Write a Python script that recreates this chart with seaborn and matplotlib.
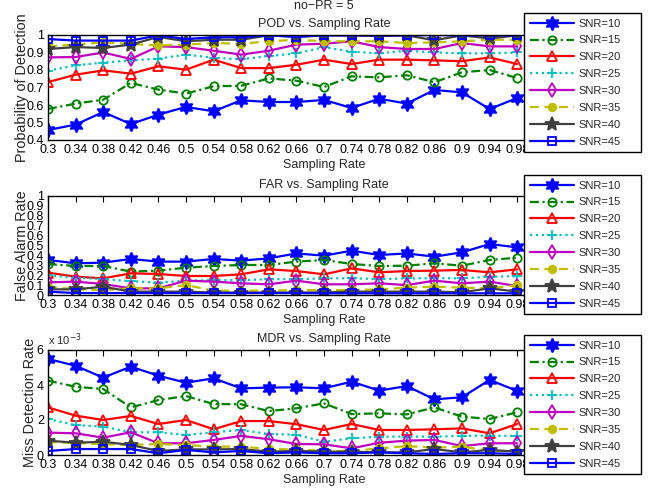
import numpy as np
import pandas as pd
import matplotlib
matplotlib.use("Agg")
import matplotlib.pyplot as plt
import seaborn as sns

# ---------------- data ----------------
sampling_rate = [0.3, 0.34, 0.38, 0.42, 0.46, 0.5, 0.54, 0.58, 0.62,
                 0.66, 0.7, 0.74, 0.78, 0.82, 0.86, 0.9, 0.94, 0.98]
x_tick_labels = ["0.3", "0.34", "0.38", "0.42", "0.46", "0.5", "0.54", "0.58", "0.62",
                 "0.66", "0.7", "0.74", "0.78", "0.82", "0.86", "0.9", "0.94", "0.98"]
snr_labels = ["SNR=10", "SNR=15", "SNR=20", "SNR=25", "SNR=30", "SNR=35", "SNR=40", "SNR=45"]

pod_snr10 = [0.457, 0.488, 0.56, 0.491, 0.545, 0.589, 0.564, 0.627, 0.617, 0.617, 0.629, 0.583, 0.636, 0.608, 0.686, 0.672, 0.577, 0.64]
pod_snr15 = [0.577, 0.608, 0.63, 0.726, 0.688, 0.665, 0.707, 0.71, 0.752, 0.739, 0.703, 0.764, 0.758, 0.77, 0.73, 0.787, 0.80, 0.754]
pod_snr20 = [0.731, 0.773, 0.798, 0.779, 0.821, 0.802, 0.859, 0.811, 0.811, 0.83, 0.859, 0.834, 0.859, 0.859, 0.855, 0.85, 0.872, 0.834]
pod_snr25 = [0.796, 0.827, 0.842, 0.855, 0.865, 0.888, 0.87, 0.861, 0.88, 0.895, 0.93, 0.905, 0.895, 0.91, 0.90, 0.895, 0.895, 0.90]
pod_snr30 = [0.872, 0.874, 0.90, 0.863, 0.935, 0.931, 0.91, 0.888, 0.91, 0.945, 0.95, 0.964, 0.931, 0.92, 0.92, 0.954, 0.935, 0.935]
pod_snr35 = [0.935, 0.945, 0.958, 0.949, 0.94, 0.945, 0.954, 0.95, 0.964, 0.973, 0.964, 0.964, 0.964, 0.954, 0.958, 0.964, 0.973, 0.973]
pod_snr40 = [0.92, 0.931, 0.926, 0.945, 0.989, 0.964, 0.973, 0.973, 0.998, 0.989, 0.998, 0.998, 0.994, 0.998, 0.97, 0.998, 0.98, 0.998]
pod_snr45 = [0.977, 0.968, 0.968, 0.968, 0.998, 0.977, 0.987, 0.987, 0.998, 0.99, 0.998, 0.998, 0.998, 0.998, 1.0, 0.998, 0.998, 0.998]

far_snr10 = [0.354, 0.32, 0.327, 0.364, 0.337, 0.337, 0.364, 0.347, 0.37, 0.42, 0.397, 0.448, 0.404, 0.42, 0.387, 0.431, 0.515, 0.481]
far_snr15 = [0.313, 0.293, 0.293, 0.236, 0.246, 0.276, 0.293, 0.303, 0.303, 0.337, 0.354, 0.313, 0.293, 0.296, 0.32, 0.296, 0.354, 0.377]
far_snr20 = [0.226, 0.185, 0.168, 0.219, 0.212, 0.192, 0.192, 0.209, 0.259, 0.242, 0.209, 0.269, 0.229, 0.242, 0.246, 0.253, 0.229, 0.259]
far_snr25 = [0.20, 0.175, 0.16, 0.14, 0.125, 0.145, 0.15, 0.15, 0.16, 0.16, 0.168, 0.17, 0.16, 0.168, 0.17, 0.168, 0.185, 0.19]
far_snr30 = [0.128, 0.135, 0.111, 0.067, 0.067, 0.145, 0.135, 0.118, 0.108, 0.145, 0.108, 0.108, 0.118, 0.10, 0.145, 0.118, 0.135, 0.09]
far_snr35 = [0.084, 0.057, 0.05, 0.067, 0.067, 0.10, 0.044, 0.044, 0.044, 0.05, 0.05, 0.05, 0.057, 0.074, 0.084, 0.074, 0.067, 0.10]
far_snr40 = [0.057, 0.057, 0.084, 0.034, 0.034, 0.034, 0.024, 0.024, 0.024, 0.024, 0.027, 0.034, 0.034, 0.034, 0.034, 0.027, 0.067, 0.034]
far_snr45 = [0.033, 0.02, 0.02, 0.02, 0.02, 0.02, 0.02, 0.02, 0.02, 0.02, 0.017, 0.017, 0.017, 0.017, 0.017, 0.017, 0.017, 0.017]

# miss detection rate, in units of 1e-3
mdr_snr10 = [5.49, 5.1, 4.42, 5.05, 4.53, 4.13, 4.38, 3.81, 3.85, 3.87, 3.81, 4.19, 3.68, 3.94, 3.18, 3.30, 4.29, 3.66]
mdr_snr15 = [4.25, 3.9, 3.77, 2.72, 3.14, 3.37, 2.91, 2.9, 2.51, 2.67, 2.95, 2.34, 2.38, 2.32, 2.72, 2.19, 2.06, 2.44]
mdr_snr20 = [2.72, 2.25, 2.0, 2.23, 1.77, 2.0, 1.47, 1.94, 1.94, 1.76, 1.43, 1.77, 1.43, 1.43, 1.47, 1.52, 1.24, 1.77]
mdr_snr25 = [2.06, 1.71, 1.62, 1.3, 1.3, 1.14, 1.3, 1.43, 1.2, 1.16, 0.76, 0.95, 1.05, 1.05, 1.05, 1.1, 1.1, 1.09]
mdr_snr30 = [1.28, 1.24, 0.99, 1.3, 0.67, 0.67, 0.86, 1.09, 0.9, 0.63, 0.61, 0.38, 0.7, 0.82, 0.86, 0.51, 0.67, 0.67]
mdr_snr35 = [0.75, 0.68, 0.62, 0.57, 0.63, 0.57, 0.48, 0.48, 0.34, 0.32, 0.23, 0.23, 0.38, 0.51, 0.42, 0.48, 0.23, 0.23]
mdr_snr40 = [0.82, 0.7, 0.76, 0.57, 0.23, 0.32, 0.32, 0.34, 0.19, 0.23, 0.19, 0.19, 0.15, 0.15, 0.34, 0.15, 0.29, 0.19]
mdr_snr45 = [0.23, 0.34, 0.34, 0.34, 0.1, 0.29, 0.15, 0.23, 0.1, 0.15, 0.1, 0.1, 0.15, 0.1, 0.06, 0.1, 0.1, 0.06]
mdr_scale = 1e-3

pod_series = [pod_snr10, pod_snr15, pod_snr20, pod_snr25, pod_snr30, pod_snr35, pod_snr40, pod_snr45]
far_series = [far_snr10, far_snr15, far_snr20, far_snr25, far_snr30, far_snr35, far_snr40, far_snr45]
mdr_series = [list(np.array(s) * mdr_scale) for s in
              [mdr_snr10, mdr_snr15, mdr_snr20, mdr_snr25, mdr_snr30, mdr_snr35, mdr_snr40, mdr_snr45]]

# ---------------- styles ----------------
sns.set_theme(style="white")
plt.rcParams["font.family"] = ["Liberation Sans", "DejaVu Sans"]
plt.rcParams["font.size"] = 9
plt.rcParams["axes.unicode_minus"] = True

hexagram = (6, 1, 0)
styles = [
    dict(color=(0, 0, 1), ls="-", marker=hexagram, ms=10, mfc=(0, 0, 1)),
    dict(color=(0, 0.5, 0), ls=(0, (4, 1.6, 1, 1.6)), marker="o", ms=6, mfc="none"),
    dict(color=(1, 0, 0), ls="-", marker="^", ms=7, mfc="none"),
    dict(color=(0, 0.75, 0.75), ls=":", marker="+", ms=7, mfc="none"),
    dict(color=(0.75, 0, 0.75), ls="-", marker="d", ms=7, mfc="none"),
    dict(color=(0.75, 0.75, 0), ls=(0, (4, 2.5)), marker="o", ms=5.5, mfc=(0.75, 0.75, 0)),
    dict(color=(0.25, 0.25, 0.25), ls="-", marker="*", ms=10, mfc=(0.25, 0.25, 0.25)),
    dict(color=(0, 0, 1), ls="-", marker="s", ms=6, mfc="none"),
]

W, H = 660, 491
fig = plt.figure(figsize=(W / 100, H / 100), dpi=100)

ax_left = 48 / W
ax_width = 552 / W


def fy(py):
    return 1 - py / H


panels = [
    dict(series=pod_series, top=35, bottom=140, ylim=(0.4, 1.0),
         yticks=[0.4, 0.5, 0.6, 0.7, 0.8, 0.9, 1.0],
         yticklabels=["0.4", "0.5", "0.6", "0.7", "0.8", "0.9", "1"],
         ylabel="Probability of Detection", title="POD vs. Sampling Rate",
         legend_top=13, ylabelpad=-1.5),
    dict(series=far_series, top=196, bottom=295, ylim=(0.0, 1.0),
         yticks=[0, 0.1, 0.2, 0.3, 0.4, 0.5, 0.6, 0.7, 0.8, 0.9, 1.0],
         yticklabels=["0", "0.1", "0.2", "0.3", "0.4", "0.5", "0.6", "0.7", "0.8", "0.9", "1"],
         ylabel="False Alarm Rate", title="FAR vs. Sampling Rate",
         legend_top=175, ylabelpad=-1.5),
    dict(series=mdr_series, top=350, bottom=455, ylim=(0.0, 6e-3),
         yticks=[0, 2e-3, 4e-3, 6e-3],
         yticklabels=["0", "2", "4", "6"],
         ylabel="Miss Detection Rate", title="MDR vs. Sampling Rate",
         legend_top=335, ylabelpad=0.0),
]

for p in panels:
    ax = fig.add_axes([ax_left, fy(p["bottom"]), ax_width, (p["bottom"] - p["top"]) / H])
    ax.set_facecolor("white")
    for vals, lab, st in zip(p["series"], snr_labels, styles):
        sns.lineplot(x=sampling_rate, y=vals, ax=ax, color=st["color"], linestyle=st["ls"],
                     marker=st["marker"], markersize=st["ms"], markerfacecolor=st["mfc"],
                     markeredgecolor=st["color"], markeredgewidth=1.3, linewidth=1.6,
                     label=lab, errorbar=None, estimator=None, sort=False)
    ax.set_xlim(0.3, 1.1)
    ax.set_ylim(*p["ylim"])
    ax.set_xticks(sampling_rate)
    ax.set_xticklabels(x_tick_labels)
    ax.set_yticks(p["yticks"])
    ax.set_yticklabels(p["yticklabels"])
    ax.tick_params(direction="in", length=4, width=0.8, top=True, right=True,
                   labelsize=9, pad=3, colors="black")
    for sp in ax.spines.values():
        sp.set_visible(True)
        sp.set_color("black")
        sp.set_linewidth(1.0)
    ax.set_xlabel("Sampling Rate", fontsize=9, labelpad=2)
    ax.set_ylabel(p["ylabel"], fontsize=10.4, labelpad=p["ylabelpad"])
    ax.set_title(p["title"], fontsize=9, pad=6)
    leg = ax.legend(loc="upper left",
                    bbox_to_anchor=(524 / W, fy(p["legend_top"]), 117 / W, 0),
                    bbox_transform=fig.transFigure, mode="expand", borderaxespad=0,
                    fontsize=8, frameon=True, fancybox=False, framealpha=1,
                    edgecolor="black", handlelength=4.0, handletextpad=0.4,
                    borderpad=0.5, labelspacing=0.62)
    leg.get_frame().set_linewidth(1.0)
    leg.set_zorder(10)
    if p["series"] is mdr_series:
        ax.text(0.0, 1.015, r"x 10$^{-3}$", transform=ax.transAxes, fontsize=8,
                ha="left", va="bottom")

fig.text(324 / W, fy(6.0), "no\u2212PR = 5", fontsize=9, ha="center", va="center")

fig.savefig("out.png", dpi=100)
